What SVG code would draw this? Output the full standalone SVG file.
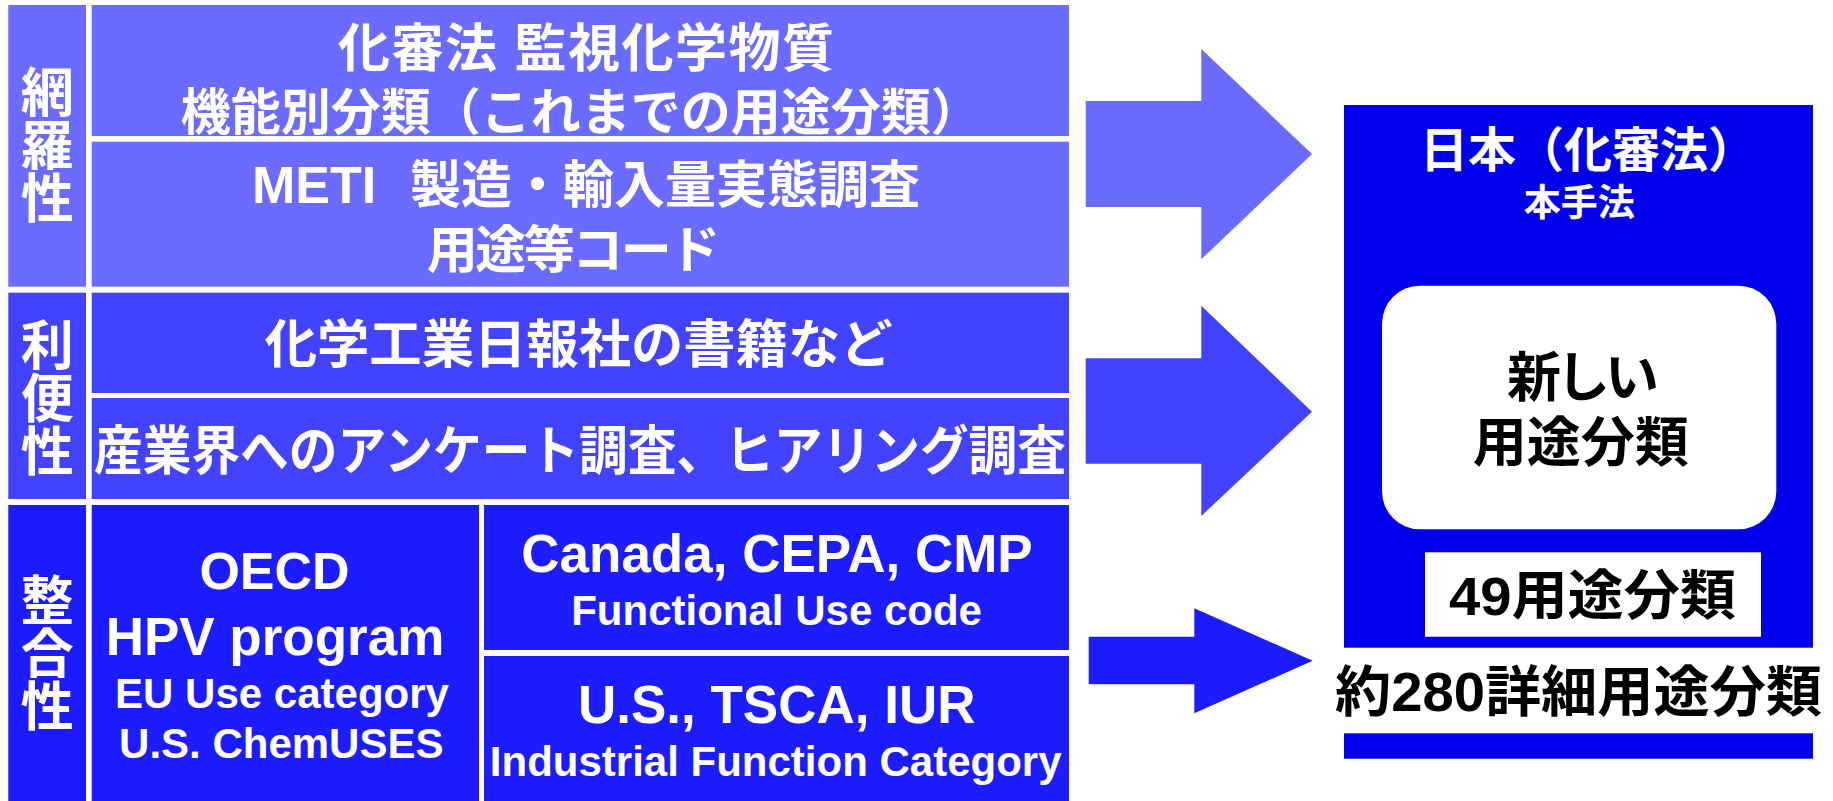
<svg xmlns="http://www.w3.org/2000/svg" width="1833" height="801" viewBox="0 0 1833 801">
<style>
.c1{fill:#6B6BFF}
.c2{fill:#4242FF}
.c3{fill:#1C1CFF}
.pn{fill:#0000EB}
.wt{fill:#FFFFFF}
.jw{font-family:"Liberation Sans","Noto Sans CJK JP",sans-serif;font-weight:bold;fill:#FFFFFF}
.jb{font-family:"Liberation Sans","Noto Sans CJK JP",sans-serif;font-weight:bold;fill:#000000}
.lw{font-family:"Liberation Sans","Noto Sans CJK JP",sans-serif;font-weight:bold;fill:#FFFFFF}
.lab{font-family:"Noto Sans CJK JP",sans-serif;font-weight:bold;fill:#FFFFFF;font-size:53px;writing-mode:vertical-rl}
</style>
<rect width="1833" height="801" fill="#FFFFFF"/>

<g id="label-mourasei">
<rect class="c1" x="8.3" y="5" width="77.7" height="281.7"/>
<text class="lab" x="47.2" y="65">網羅性</text>
</g>
<g id="label-ribensei">
<rect class="c2" x="8.3" y="292.7" width="77.7" height="206.3"/>
<text class="lab" x="47.2" y="318.5">利便性</text>
</g>
<g id="label-seigousei">
<rect class="c3" x="8.3" y="505" width="77.7" height="296"/>
<text class="lab" x="47.2" y="573.5">整合性</text>
</g>

<g id="box-kashinhou">
<rect class="c1" x="91.7" y="5" width="977.3" height="131"/>
<text class="jw"><tspan x="338" y="67.3" font-size="52" letter-spacing="1.5">化審法 監視化学物質</tspan><tspan x="180.7" y="130" font-size="50">機能別分類（これまでの用途分類）</tspan></text>
</g>
<g id="box-meti">
<rect class="c1" x="91.7" y="141.7" width="977.3" height="145"/>
<text class="lw" xml:space="preserve"><tspan x="252" y="203" font-size="52">METI  </tspan><tspan class="jw" x="410" y="202.6" font-size="51">製造・輸入量実態調査</tspan><tspan class="jw" x="426.7" y="267.8" font-size="51" letter-spacing="-2.5">用途等コード</tspan></text>
</g>
<g id="box-kagakukogyo">
<rect class="c2" x="91.7" y="292.7" width="977.3" height="100.3"/>
<text class="jw" x="264.7" y="363.2" font-size="52" textLength="628" lengthAdjust="spacingAndGlyphs">化学工業日報社の書籍など</text>
</g>
<g id="box-survey">
<rect class="c2" x="91.7" y="398" width="977.3" height="101"/>
<text class="jw" x="94" y="470.2" font-size="53" textLength="972" lengthAdjust="spacingAndGlyphs">産業界へのアンケート調査、ヒアリング調査</text>
</g>
<g id="box-oecd">
<rect class="c3" x="91.7" y="505" width="387.3" height="296"/>
<text class="lw" x="274.5" y="589" font-size="52" text-anchor="middle">OECD</text>
<text class="lw" x="275" y="655" font-size="53" text-anchor="middle">HPV program</text>
<text class="lw" x="282" y="708.3" font-size="42" text-anchor="middle">EU Use category</text>
<text class="lw" x="281.3" y="758.3" font-size="42" text-anchor="middle">U.S. ChemUSES</text>
</g>
<g id="box-canada">
<rect class="c3" x="484" y="505" width="585" height="145"/>
<text class="lw" x="777" y="571.7" font-size="53" text-anchor="middle">Canada, CEPA, CMP</text>
<text class="lw" x="776.6" y="625" font-size="42" text-anchor="middle">Functional Use code</text>
</g>
<g id="box-us">
<rect class="c3" x="484" y="656" width="585" height="145"/>
<text class="lw" x="776.7" y="723.3" font-size="53" text-anchor="middle">U.S., TSCA, IUR</text>
<text class="lw" x="775.7" y="776" font-size="42" text-anchor="middle">Industrial Function Category</text>
</g>

<g id="connectors">
<polygon class="c1" points="1085.7,101 1201.3,101 1201.3,49 1312,154 1201.3,259.3 1201.3,207 1085.7,207"/>
<polygon class="c2" points="1085.7,358.3 1201.3,358.3 1201.3,305.7 1312,411.7 1201.3,516 1201.3,463.7 1085.7,463.7"/>
<polygon class="c3" points="1088.7,636.7 1194.3,636.7 1194.3,608.3 1312.7,660.7 1194.3,713.3 1194.3,684.3 1088.7,684.3"/>
</g>

<g id="panel-japan">
<rect class="pn" x="1344" y="105" width="469" height="542.7"/>
<text class="jw"><tspan x="1420" y="166.7" font-size="48">日本（化審法）</tspan><tspan x="1579.2" y="216" font-size="37" text-anchor="middle">本手法</tspan></text>
</g>
<g id="node-new-category">
<rect class="wt" x="1382" y="285.7" width="394.3" height="243.6" rx="38" ry="38"/>
<text class="jb" font-size="54"><tspan x="1507" y="397.3" letter-spacing="-5">新しい</tspan><tspan x="1472.7" y="462.2">用途分類</tspan></text>
</g>
<g id="node-49">
<rect class="wt" x="1425" y="552.3" width="336" height="84.4"/>
<text class="jb" x="1449" y="615.2" font-size="54" textLength="287" lengthAdjust="spacingAndGlyphs">49用途分類</text>
</g>
<g id="node-280">
<text class="jb" x="1335" y="711.4" font-size="55" textLength="487" lengthAdjust="spacingAndGlyphs">約280詳細用途分類</text>
<rect class="pn" x="1344" y="733.3" width="469" height="25.4"/>
</g>
</svg>
